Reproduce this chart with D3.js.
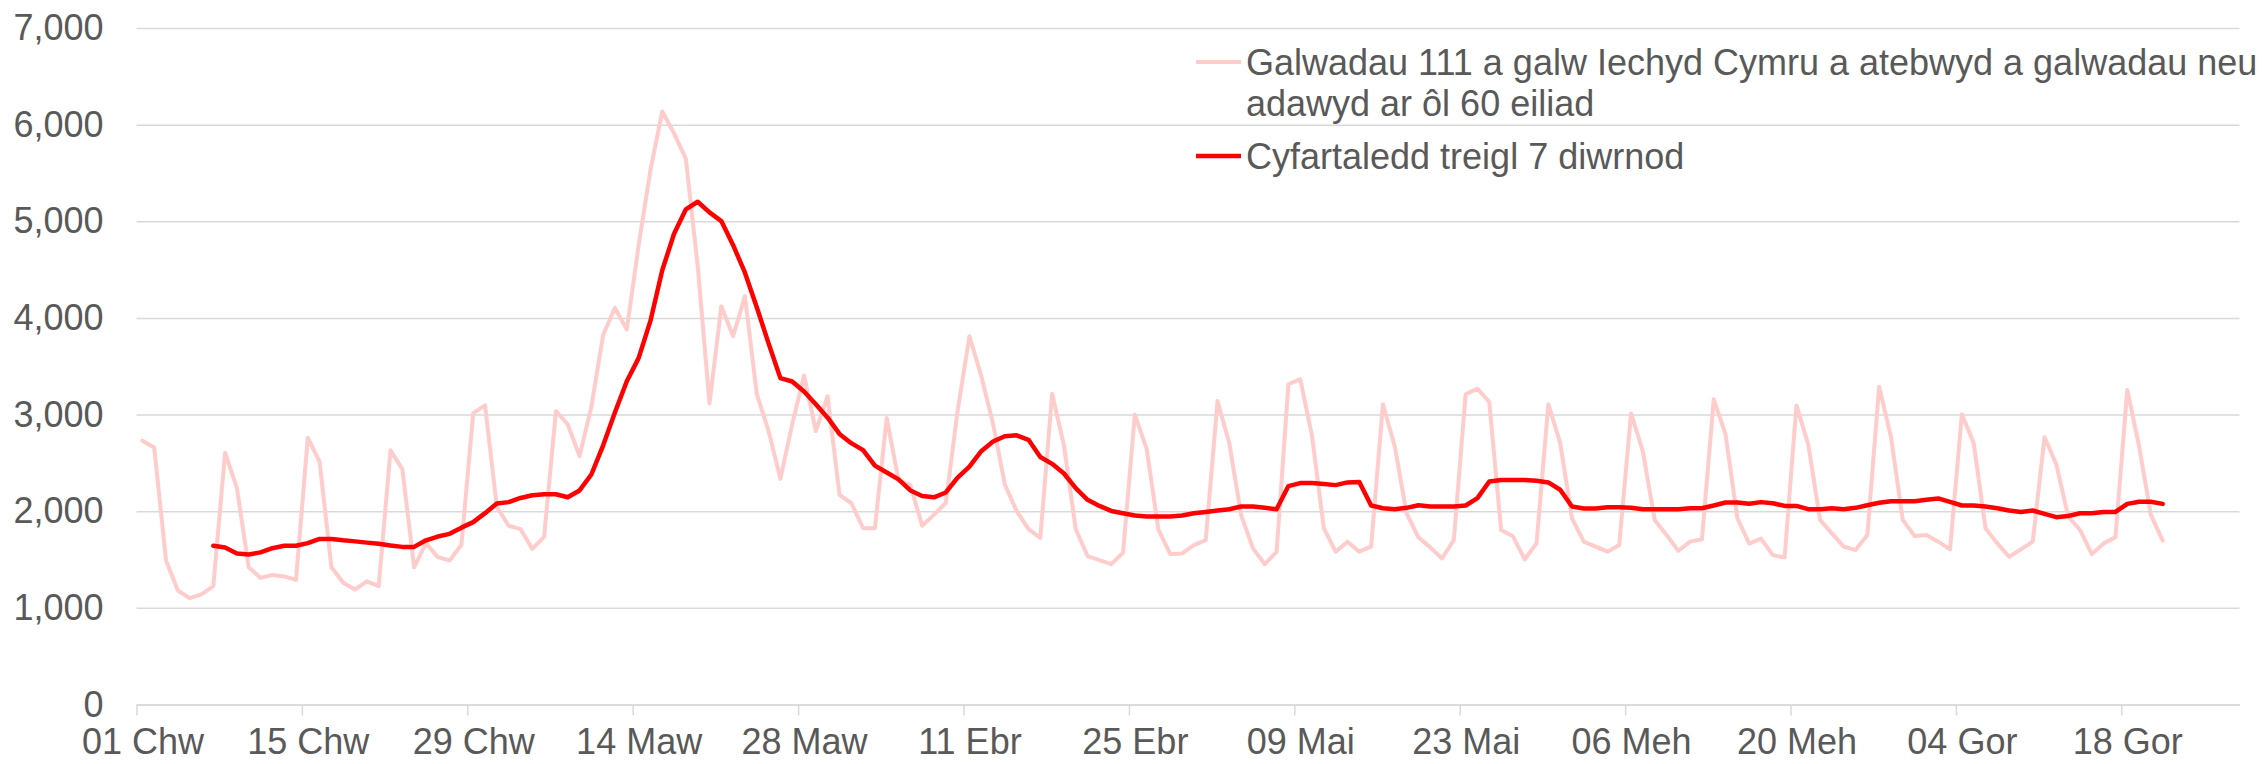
<!DOCTYPE html>
<html>
<head>
<meta charset="utf-8">
<script src="https://cdn.jsdelivr.net/npm/d3@7"></script>
<style>
    body { margin: 0; background: #fff; }
    text { font-family: "Liberation Sans", Arial, sans-serif; fill: #595959; }
</style>
</head>
<body>
<div id="chart-area"></div>
<script>

/* data: daily calls from 01 Feb 2020, rolling average from 07 Feb */
const startDate = "2020-02-01";
const rollingStart = "2020-02-07";

const calls = [
    2730, 2660, 1490, 1180, 1100, 1140, 1225, 2605, 2240, 1420, 1310, 1340, 1325, 1290,
    2760, 2510, 1420, 1260, 1190, 1275, 1225, 2630, 2435, 1420, 1670, 1525, 1490, 1650,
    3015, 3095, 2045, 1850, 1815, 1610, 1735, 3035, 2900, 2570, 3080, 3826, 4104, 3880,
    4750, 5530, 6136, 5910, 5645, 4540, 3115, 4120, 3810, 4225, 3215, 2830, 2335, 2900,
    3405, 2830, 3190, 2170, 2085, 1825, 1825, 2965, 2320, 2270, 1850, 1965, 2085, 3040,
    3810, 3400, 2905, 2275, 2000, 1815, 1725, 3215, 2680, 1813, 1536, 1494, 1452, 1570,
    3000, 2645, 1806, 1556, 1563, 1650, 1700, 3140, 2700, 1960, 1615, 1452, 1580, 3314,
    3366, 2776, 1823, 1581, 1685, 1581, 1633, 3106, 2672, 1979, 1730, 1626, 1511, 1702,
    3210, 3268, 3130, 1806, 1740, 1501, 1667, 3106, 2707, 1927, 1685, 1633, 1581, 1650,
    3012, 2620, 1910, 1754, 1591, 1685, 1709, 3158, 2794, 1927, 1665, 1716, 1546, 1522,
    3095, 2690, 1910, 1771, 1633, 1598, 1754, 3289, 2769, 1910, 1744, 1754, 1685, 1605,
    3002, 2707, 1823, 1667, 1529, 1605, 1685, 2766, 2482, 1945, 1806, 1556, 1667, 1730,
    3255, 2672, 1962, 1695
];

const rolling = [
    1642, 1624, 1563, 1552, 1574, 1617, 1642, 1642, 1670, 1713, 1713, 1699, 1688, 1675,
    1663, 1645, 1631, 1631, 1699, 1738, 1766, 1830, 1887, 1980, 2080, 2094, 2137, 2165,
    2176, 2176, 2144, 2215, 2380, 2682, 3024, 3345, 3584, 3969, 4493, 4871, 5124, 5202,
    5092, 5002, 4753, 4468, 4111, 3737, 3377, 3342, 3238, 3106, 2968, 2800, 2704, 2632,
    2472, 2401, 2329, 2215, 2158, 2144, 2194, 2347, 2461, 2621, 2721, 2775, 2786, 2739,
    2561, 2490, 2390, 2239, 2118, 2055, 2003, 1979, 1955, 1945, 1945, 1945, 1955, 1979,
    1993, 2007, 2021, 2049, 2049, 2035, 2021, 2260, 2291, 2291, 2281, 2270, 2298, 2302,
    2059, 2031, 2021, 2035, 2062, 2049, 2049, 2049, 2059, 2135, 2308, 2322, 2322, 2322,
    2315, 2298, 2222, 2049, 2028, 2028, 2042, 2042, 2035, 2021, 2021, 2021, 2021, 2031,
    2031, 2059, 2090, 2090, 2078, 2094, 2083, 2055, 2055, 2021, 2021, 2031, 2021, 2035,
    2062, 2087, 2104, 2104, 2104, 2118, 2132, 2097, 2059, 2059, 2049, 2031, 2007, 1993,
    2007, 1972, 1938, 1951, 1979, 1979, 1993, 1993, 2076, 2097, 2097, 2076
];

const tickLabels = ["01 Chw", "15 Chw", "29 Chw", "14 Maw", "28 Maw", "11 Ebr", "25 Ebr",
    "09 Mai", "23 Mai", "06 Meh", "20 Meh", "04 Gor", "18 Gor"];
const yTicks = [0, 1000, 2000, 3000, 4000, 5000, 6000, 7000];

const seriesNames = [
    ["Galwadau 111 a galw Iechyd Cymru a atebwyd a galwadau neu", "adawyd ar ôl 60 eiliad"],
    ["Cyfartaledd treigl 7 diwrnod"]
];

/* graphical constants */
const FONT = 36;
const margin = { left: 136.5, right: 22.5, top: 28, bottom: 59.5 };
const width = 2262 - margin.left - margin.right;
const height = 764 - margin.top - margin.bottom;

const svg = d3.select("#chart-area")
    .append("svg")
    .attr("width", 2262)
    .attr("height", 764);

const g = svg.append("g")
    .attr("transform", "translate(" + margin.left + ", " + margin.top + ")");

const start = new Date(startDate + "T00:00:00Z");
const rStart = new Date(rollingStart + "T00:00:00Z");

// X scale: 178 days, points sit in the middle of each day
const x = d3.scaleUtc()
    .domain([start, d3.utcDay.offset(start, 178)])
    .range([0, width]);

const y = d3.scaleLinear()
    .domain([0, 7000])
    .range([height, 0]);

const mid = d => d3.utcHour.offset(d, 12);
const halfDay = x(mid(start)) - x(start);

// Y axis + gridlines
const yAxisGroup = g.append("g")
    .call(d3.axisLeft(y)
        .tickValues(yTicks)
        .tickSize(-width)
        .tickPadding(33)
        .tickFormat(d3.format(",")));
yAxisGroup.select(".domain").remove();
yAxisGroup.selectAll("line")
    .attr("stroke", "#d9d9d9")
    .attr("stroke-width", 1.5);
yAxisGroup.selectAll("text")
    .style("font-size", FONT + "px")
    .attr("fill", "#595959");

// X axis
const tickDates = tickLabels.map((d, i) => d3.utcDay.offset(start, 14 * i));
const xAxisGroup = g.append("g")
    .attr("transform", "translate(0," + height + ")")
    .call(d3.axisBottom(x)
        .tickValues(tickDates)
        .tickSize(11)
        .tickSizeOuter(0)
        .tickPadding(13)
        .tickFormat((d, i) => tickLabels[i]));
xAxisGroup.select(".domain")
    .attr("stroke", "#d9d9d9")
    .attr("stroke-width", 1.5);
xAxisGroup.selectAll("line")
    .attr("stroke", "#d9d9d9")
    .attr("stroke-width", 1.5);
xAxisGroup.selectAll("text")
    .attr("x", halfDay)
    .style("font-size", FONT + "px")
    .attr("fill", "#595959");

// lines
const callData = calls.map((v, i) => ({ date: d3.utcDay.offset(start, i), value: v }));
const rollData = rolling.map((v, i) => ({ date: d3.utcDay.offset(rStart, i), value: v }));

const line = d3.line()
    .x(d => x(mid(d.date)))
    .y(d => y(d.value));

g.append("path")
    .datum(callData)
    .attr("fill", "none")
    .attr("stroke", "#ffcccc")
    .attr("stroke-width", 4)
    .attr("stroke-linejoin", "round")
    .attr("stroke-linecap", "round")
    .attr("d", line);

g.append("path")
    .datum(rollData)
    .attr("fill", "none")
    .attr("stroke", "#ff0000")
    .attr("stroke-width", 4.5)
    .attr("stroke-linejoin", "round")
    .attr("stroke-linecap", "round")
    .attr("d", line);

// legend
const legend = svg.append("g");
const legendColors = ["#ffcccc", "#ff0000"];
const legendY = [62, 156];

seriesNames.forEach((lines, k) => {
    legend.append("line")
        .attr("x1", 1196)
        .attr("x2", 1241)
        .attr("y1", legendY[k])
        .attr("y2", legendY[k])
        .attr("stroke", legendColors[k])
        .attr("stroke-width", k === 0 ? 4 : 4.5);
    lines.forEach((txt, j) => {
        legend.append("text")
            .attr("x", 1246)
            .attr("y", legendY[k] + 13 + j * 40.5)
            .style("font-size", FONT + "px")
            .text(txt);
    });
});

</script>
</body>
</html>
